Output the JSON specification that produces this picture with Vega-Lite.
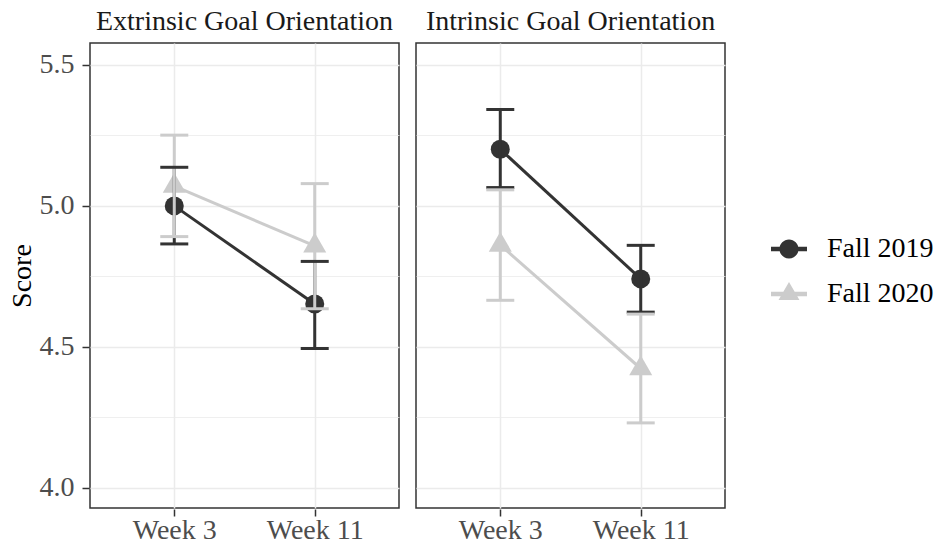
{
  "$schema": "https://vega.github.io/schema/vega-lite/v6.json",
  "background": "white",
  "padding": {"left": 8, "top": 8, "right": 5, "bottom": 2},
  "data": {"values": [
    {"goal": "Extrinsic Goal Orientation", "week": "Week 3", "cohort": "Fall 2019", "mean": 5.000, "lower": 4.865, "upper": 5.137},
    {"goal": "Extrinsic Goal Orientation", "week": "Week 11", "cohort": "Fall 2019", "mean": 4.652, "lower": 4.494, "upper": 4.803},
    {"goal": "Intrinsic Goal Orientation", "week": "Week 3", "cohort": "Fall 2019", "mean": 5.201, "lower": 5.065, "upper": 5.342},
    {"goal": "Intrinsic Goal Orientation", "week": "Week 11", "cohort": "Fall 2019", "mean": 4.741, "lower": 4.623, "upper": 4.860},
    {"goal": "Extrinsic Goal Orientation", "week": "Week 3", "cohort": "Fall 2020", "mean": 5.070, "lower": 4.891, "upper": 5.251},
    {"goal": "Extrinsic Goal Orientation", "week": "Week 11", "cohort": "Fall 2020", "mean": 4.858, "lower": 4.635, "upper": 5.079},
    {"goal": "Intrinsic Goal Orientation", "week": "Week 3", "cohort": "Fall 2020", "mean": 4.861, "lower": 4.665, "upper": 5.057},
    {"goal": "Intrinsic Goal Orientation", "week": "Week 11", "cohort": "Fall 2020", "mean": 4.423, "lower": 4.230, "upper": 4.616}
  ]},
  "facet": {
    "column": {
      "field": "goal", "type": "nominal",
      "header": {"title": null, "labelFont": "Liberation Serif", "labelFontSize": 28, "labelColor": "#1a1a1a", "labelPadding": 6}
    }
  },
  "spacing": 15,
  "spec": {
    "width": 309,
    "height": 465,
    "encoding": {
      "x": {
        "field": "week", "type": "nominal",
        "scale": {"type": "point", "padding": 0.6, "domain": ["Week 3", "Week 11"]},
        "axis": {"title": null, "labelAngle": 0, "domain": false, "grid": true, "gridColor": "#ebebeb", "gridWidth": 1.5,
                 "tickColor": "#333333", "tickWidth": 1.5, "tickSize": 7, "labelFont": "Liberation Serif", "labelFontSize": 28, "labelColor": "#4d4d4d", "labelPadding": 0}
      },
      "color": {
        "field": "cohort", "type": "nominal",
        "scale": {"domain": ["Fall 2019", "Fall 2020"], "range": ["#333333", "#cccccc"]},
        "legend": {
          "title": null, "orient": "none", "legendX": 681, "legendY": 188,
          "labelFont": "Liberation Serif", "labelFontSize": 28, "labelColor": "#000000",
          "symbolSize": 1296, "rowPadding": 13, "labelOffset": 20,
          "encode": {"symbols": {"update": {
            "shape": {"signal": "datum.value === 'Fall 2019' ? 'M-1,-0.12L1,-0.12L1,0.12L-1,0.12Z M0.53,0A0.53,0.53 0 1,1 -0.53,0A0.53,0.53 0 1,1 0.53,0Z' : 'M-1,-0.12L1,-0.12L1,0.12L-1,0.12Z M0,-0.67L0.58,0.335L-0.58,0.335Z'"},
            "fill": {"signal": "datum.value === 'Fall 2019' ? '#333333' : '#cccccc'"},
            "fillOpacity": {"value": 1},
            "strokeWidth": {"value": 0},
            "size": {"value": 1296}
          }}}
        }
      }
    },
    "layer": [
      {
        "mark": {"type": "line", "strokeWidth": 3},
        "encoding": {
          "y": {
            "field": "mean", "type": "quantitative",
            "scale": {"domain": [3.928, 5.578], "nice": false, "zero": false},
            "axis": {
              "title": "Score", "titleFont": "Liberation Serif", "titleFontSize": 28, "titleFontWeight": "normal", "titleColor": "#000000", "titlePadding": 3,
              "values": [4, 4.25, 4.5, 4.75, 5, 5.25, 5.5],
              "labelExpr": "datum.value % 0.5 === 0 ? format(datum.value, '.1f') : ''",
              "labelFont": "Liberation Serif", "labelFontSize": 28, "labelColor": "#4d4d4d", "labelPadding": 8,
              "domain": false, "grid": true, "gridColor": "#ebebeb",
              "gridWidth": {"condition": {"test": "datum.value % 0.5 === 0", "value": 1.5}, "value": 0.8},
              "tickColor": "#333333", "tickWidth": 1.5, "tickSize": 7,
              "tickOpacity": {"condition": {"test": "datum.value % 0.5 === 0", "value": 1}, "value": 0}
            }
          },
          "detail": {"field": "cohort"}
        }
      },
      {
        "mark": {"type": "point", "filled": true, "opacity": 1, "size": 361},
        "encoding": {
          "y": {"field": "mean", "type": "quantitative"},
          "shape": {"condition": {"test": "datum.cohort === 'Fall 2019'", "value": "circle"}, "value": "M0,-1.4L1.212,0.7L-1.212,0.7Z"}
        }
      },
      {
        "mark": {"type": "rule", "strokeWidth": 3},
        "encoding": {
          "y": {"field": "lower", "type": "quantitative"},
          "y2": {"field": "upper"}
        }
      },
      {
        "mark": {"type": "tick", "size": 28, "thickness": 3, "opacity": 1},
        "encoding": {"y": {"field": "lower", "type": "quantitative"}}
      },
      {
        "mark": {"type": "tick", "size": 28, "thickness": 3, "opacity": 1},
        "encoding": {"y": {"field": "upper", "type": "quantitative"}}
      }
    ]
  },
  "config": {
    "view": {"stroke": "#333333", "strokeWidth": 1.5},
    "font": "Liberation Serif"
  }
}
